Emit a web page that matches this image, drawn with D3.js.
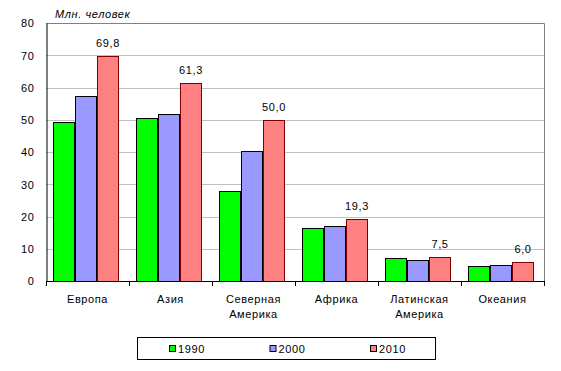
<!DOCTYPE html>
<html>
<head>
<meta charset="UTF-8">
<title>Млн. человек</title>
<style>
    body { margin: 0; background: #fff; }
    svg text { font-family: "Liberation Sans", Arial, sans-serif; font-size: 11px; fill: #000; letter-spacing: 0.6px; }
</style>
</head>
<body>
<svg width="561" height="371"></svg>
<script src="https://cdn.jsdelivr.net/npm/d3@7/dist/d3.min.js"></script>
<script>

    var categories = [["Европа"], ["Азия"], ["Северная", "Америка"], ["Африка"], ["Латинская", "Америка"], ["Океания"]];
    var years = ["1990", "2000", "2010"];
    var v1990 = [49.3, 50.4, 27.8, 16.3, 7.0, 4.5];
    var v2000 = [57.3, 51.7, 40.2, 17.0, 6.4, 4.9];
    var v2010 = [69.8, 61.3, 50.0, 19.3, 7.5, 6.0];
    var yTicks = [0, 10, 20, 30, 40, 50, 60, 70, 80];

    var series = [v1990, v2000, v2010];
    var fills = ["#00ff00", "#9999ff", "#ff8080"];
    var strokes = ["#000", "#000", "#800000"];

    var svg = d3.select("svg");
    var pLeft = 46, pRight = 544, pTop = 23, pBottom = 281;

    var x = d3.scaleBand().domain(d3.range(categories.length)).range([pLeft, pRight]);
    var xi = d3.scaleBand().domain(d3.range(years.length)).range([7, 73]);
    var y = d3.scaleLinear().domain([0, 80]).range([pBottom, pTop]);

    // grid
    svg.append("g").selectAll("line")
        .data(yTicks.slice(1, -1))
        .enter().append("line")
        .attr("x1", pLeft).attr("x2", pRight)
        .attr("y1", function(d) { return Math.round(y(d)) + 0.5; })
        .attr("y2", function(d) { return Math.round(y(d)) + 0.5; })
        .attr("stroke", "#c0c0c0");

    // plot frame top/right
    svg.append("path")
        .attr("d", "M" + pLeft + "," + (pTop + 0.5) + "H" + (pRight + 0.5) + "V" + pBottom)
        .attr("fill", "none").attr("stroke", "#808080");

    // bars
    series.forEach(function(vals, s) {
        svg.append("g").selectAll("rect")
            .data(vals)
            .enter().append("rect")
            .attr("x", function(d, i) { return Math.round(x(i) + xi(s)) + 0.5; })
            .attr("y", function(d) { return Math.round(y(d)) + 0.5; })
            .attr("width", Math.round(xi.bandwidth()) - 1)
            .attr("height", function(d) { return pBottom - Math.round(y(d)); })
            .attr("fill", fills[s])
            .attr("stroke", strokes[s]);
    });

    // value labels on 2010
    svg.append("g").selectAll("text")
        .data(v2010)
        .enter().append("text")
        .attr("x", function(d, i) { return x(i) + xi(2) + xi.bandwidth() / 2; })
        .attr("y", function(d) { return y(d) - 9; })
        .attr("text-anchor", "middle")
        .text(function(d) { return d.toFixed(1).replace(".", ","); });

    // axes
    var yAxis = svg.append("g")
        .attr("transform", "translate(" + (pLeft + 0.5) + ",0)")
        .call(d3.axisLeft(y).tickValues(yTicks).tickSize(0).tickPadding(12));
    yAxis.select(".domain").attr("stroke", "#000");
    yAxis.selectAll("text").attr("dy", "0.35em");

    var xAxis = svg.append("g")
        .attr("transform", "translate(0," + (pBottom + 0.5) + ")")
        .call(d3.axisBottom(x).tickSize(0).tickFormat(""));
    xAxis.select(".domain").attr("d", "M" + pLeft + ",0H" + pRight).attr("stroke", "#000");
    xAxis.selectAll(".tick").remove();

    svg.append("g").selectAll("line")
        .data(d3.range(categories.length + 1))
        .enter().append("line")
        .attr("x1", function(d) { return Math.round(pLeft + d * x.step()) + 0.5; })
        .attr("x2", function(d) { return Math.round(pLeft + d * x.step()) + 0.5; })
        .attr("y1", pBottom).attr("y2", pBottom + 5)
        .attr("stroke", "#000");

    svg.append("g").selectAll("text")
        .data(categories)
        .enter().append("text")
        .attr("x", function(d, i) { return x(i) + x.bandwidth() / 2; })
        .attr("y", 303)
        .attr("text-anchor", "middle")
        .each(function(d) {
            var t = d3.select(this);
            d.forEach(function(line, k) {
                t.append("tspan").attr("x", t.attr("x")).attr("dy", k ? 15 : 0).text(line);
            });
        });

    svg.append("text")
        .attr("x", 55).attr("y", 18)
        .style("font-style", "italic")
        .text("Млн. человек");

    // legend
    var legend = svg.append("g");
    legend.append("rect")
        .attr("x", 137.5).attr("y", 337.5).attr("width", 298).attr("height", 22)
        .attr("fill", "#fff").attr("stroke", "#000");
    var lx = d3.scalePoint().domain(years).range([169, 370]);
    var item = legend.selectAll("g.item")
        .data(years)
        .enter().append("g")
        .attr("transform", function(d) { return "translate(" + lx(d) + ",345)"; });
    item.append("rect")
        .attr("x", 0.5).attr("y", 0.5).attr("width", 6).attr("height", 6)
        .attr("fill", function(d, i) { return fills[i]; })
        .attr("stroke", "#000");
    item.append("text")
        .attr("x", 9).attr("y", 8)
        .text(function(d) { return d; });

</script>
</body>
</html>
